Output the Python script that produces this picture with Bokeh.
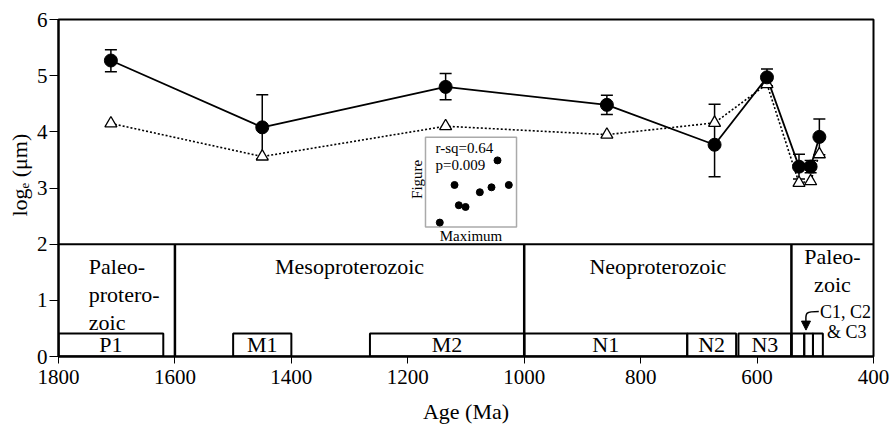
from bokeh.plotting import figure
from bokeh.models import (Range1d, Whisker, TeeHead, Span, ColumnDataSource, Arrow, NormalHead,
                          FixedTicker, Title)
from bokeh.core.properties import value
from bokeh.embed import file_html
from bokeh.resources import INLINE

FONT = "Liberation Serif"

# ---- data ----
age = [1710, 1450, 1135, 858, 673, 583, 528, 508, 493]
maximum = [5.27, 4.08, 4.80, 4.48, 3.77, 4.97, 3.38, 3.38, 3.91]
max_upper = [5.46, 4.66, 5.04, 4.65, 4.49, 5.12, 3.60, 3.49, 4.23]
max_lower = [5.07, 3.52, 4.57, 4.31, 3.20, 4.82, 3.16, 3.27, 3.59]
figure_size = [4.15, 3.56, 4.10, 3.95, 4.16, 4.85, 3.09, 3.12, 3.60]

era_names = ["Paleo-\nprotero-\nzoic", "Mesoproterozoic", "Neoproterozoic", "Paleo-\nzoic"]
era_start = [1800, 1600, 1000, 541]
era_end = [1600, 1000, 541, 400]

unit_names = ["P1", "M1", "M2", "N1", "N2", "N3", "C1", "C2", "C3"]
unit_start = [1800, 1500, 1265, 1000, 720, 632, 541, 519, 504]
unit_end = [1620, 1400, 1000, 720, 636, 541, 519, 504, 487]

inset_maximum = [1.57, 3.19, 3.66, 4.40, 5.97, 7.25, 7.91, 9.15]
inset_figure = [0.48, 4.67, 2.41, 2.22, 3.86, 4.41, 7.41, 4.67]

x_ticks = [1800, 1600, 1400, 1200, 1000, 800, 600, 400]
y_ticks = [0, 1, 2, 3, 4, 5, 6]

# ---- style / layout constants ----
UNIT_H = 0.41
INSET_L, INSET_R, INSET_B, INSET_T = 0.4503, 0.562, 0.3846, 0.6509
INSET_SPAN = 10.0

p = figure(width=890, height=426, x_range=Range1d(1800, 400), y_range=Range1d(0, 6),
           output_backend="svg", toolbar_location=None,
           min_border_left=58, min_border_right=17, min_border_top=19, min_border_bottom=69)
p.grid.visible = False
p.outline_line_color = "black"
p.outline_line_width = 2
p.background_fill_color = "white"
p.border_fill_color = "white"

for ax in (p.xaxis[0], p.yaxis[0]):
    ax.axis_line_color = "black"
    ax.axis_line_width = 2
    ax.major_tick_line_color = "black"
    ax.major_tick_line_width = 1
    ax.major_tick_in = 0
    ax.minor_tick_line_color = None
    ax.major_label_text_font = FONT
    ax.major_label_text_font_size = "21px"
    ax.major_label_text_color = "black"
    ax.axis_label_text_font = FONT
    ax.axis_label_text_font_size = "22px"
    ax.axis_label_text_font_style = "normal"
    ax.axis_label_text_color = "black"

p.xaxis.ticker = FixedTicker(ticks=x_ticks)
p.yaxis.ticker = FixedTicker(ticks=y_ticks)
p.xaxis.major_tick_out = 7
p.yaxis.major_tick_out = 9
p.xaxis.major_label_standoff = 6
p.yaxis.major_label_standoff = 2
p.xaxis.axis_label = "Age (Ma)"
p.xaxis.axis_label_standoff = 12

# y-axis title as a left-side title, offset so it sits a little above the frame centre
p.add_layout(Title(text="logₑ (μm)", align="left", offset=140, standoff=4,
                   text_font=FONT, text_font_size="22px", text_font_style="normal",
                   text_color="black"), "left")

# ---- geological time scale ----
p.add_layout(Span(location=2, dimension="width", line_color="black", line_width=2))
p.segment(x0=era_start[1:], y0=0, x1=era_start[1:], y1=2, line_color="black", line_width=2.5)
p.quad(left=unit_start, right=unit_end, bottom=0, top=UNIT_H,
       fill_color=None, line_color="black", line_width=2)
unit_mid = [(a + b) / 2 for a, b in zip(unit_start, unit_end)]
unit_label = [n if not n.startswith("C") else "" for n in unit_names]
p.text(x=unit_mid, y=[UNIT_H / 2] * len(unit_mid), text=unit_label,
       text_font=value(FONT), text_font_size="22px", text_align="center",
       text_baseline="middle", text_color="black")

era_mid = [(a + b) / 2 for a, b in zip(era_start, era_end)]
p.text(x=[era_start[0] - 52], y=[1.105], text=[era_names[0]], text_font=value(FONT),
       text_font_size="22px", text_align="left", text_baseline="middle",
       text_line_height=1.13, text_color="black")
p.text(x=era_mid[1:3], y=[1.61, 1.61], text=era_names[1:3], text_font=value(FONT),
       text_font_size="22px", text_align="center", text_baseline="middle", text_color="black")
p.text(x=[era_mid[3]], y=[1.53], text=[era_names[3]], text_font=value(FONT),
       text_font_size="22px", text_align="center", text_baseline="middle",
       text_line_height=1.13, text_color="black")

# C1, C2 & C3 annotation with curved arrow
c_x = unit_end[6] - 3
p.bezier(x0=[unit_end[8] + 7], y0=[0.80], x1=[c_x], y1=[0.60],
         cx0=[c_x + 4], cy0=[0.80], cx1=[c_x], cy1=[0.76], line_color="black", line_width=1.5)
p.add_layout(Arrow(end=NormalHead(size=9, fill_color="black", line_color="black"),
                   x_start=c_x, y_start=0.62, x_end=c_x, y_end=0.47,
                   line_color="black", line_width=1.5))
p.text(x=[unit_end[8] + 5], y=[0.80], text=["C1, C2"], text_font=value(FONT),
       text_font_size="18px", text_align="left", text_baseline="middle", text_color="black")
p.text(x=[unit_end[8] - 7], y=[0.43], text=["& C3"], text_font=value(FONT),
       text_font_size="18px", text_align="left", text_baseline="middle", text_color="black")

# ---- main series ----
src = ColumnDataSource(dict(age=age, maximum=maximum, upper=max_upper, lower=max_lower,
                            fig=figure_size))
p.line("age", "fig", source=src, line_color="black", line_width=1.6, line_dash="2 2")
p.line("age", "maximum", source=src, line_color="black", line_width=1.8)
p.add_layout(Whisker(source=src, base="age", upper="upper", lower="lower", dimension="height",
                     line_color="black", line_width=1.5,
                     upper_head=TeeHead(size=12, line_color="black", line_width=1.5),
                     lower_head=TeeHead(size=12, line_color="black", line_width=1.5)))
p.scatter("age", "fig", source=src, marker="triangle", size=12, fill_color="white",
          line_color="black", line_width=1.3)
p.scatter("age", "maximum", source=src, marker="circle", size=13, fill_color="black",
          line_color="black")

# ---- inset scatter (own scales placed inside the frame) ----
sx = INSET_SPAN / (INSET_R - INSET_L)
sy = INSET_SPAN / (INSET_T - INSET_B)
p.extra_x_ranges = {"ix": Range1d(-INSET_L * sx, -INSET_L * sx + sx)}
p.extra_y_ranges = {"iy": Range1d(-INSET_B * sy, -INSET_B * sy + sy)}
p.quad(left=[0], right=[INSET_SPAN], bottom=[0], top=[INSET_SPAN], x_range_name="ix",
       y_range_name="iy", fill_color="white", line_color="#aaaaaa", line_width=1.5)
p.scatter(inset_maximum, inset_figure, x_range_name="ix", y_range_name="iy", size=7,
          fill_color="black", line_color="black")
p.text(x=[1.1, 1.1], y=[8.8, 6.9], text=["r-sq=0.64", "p=0.009"], x_range_name="ix",
       y_range_name="iy", text_font=value(FONT), text_font_size="15px",
       text_align="left", text_baseline="middle", text_color="black")
p.text(x=[-0.9], y=[5.3], text=["Figure"], angle=1.5708, x_range_name="ix", y_range_name="iy",
       text_font=value(FONT), text_font_size="15px", text_align="center",
       text_baseline="middle", text_color="black")
p.text(x=[5.0], y=[-1.0], text=["Maximum"], x_range_name="ix", y_range_name="iy",
       text_font=value(FONT), text_font_size="15px", text_align="center",
       text_baseline="middle", text_color="black")

open("out.html", "w").write(file_html(p, INLINE))
